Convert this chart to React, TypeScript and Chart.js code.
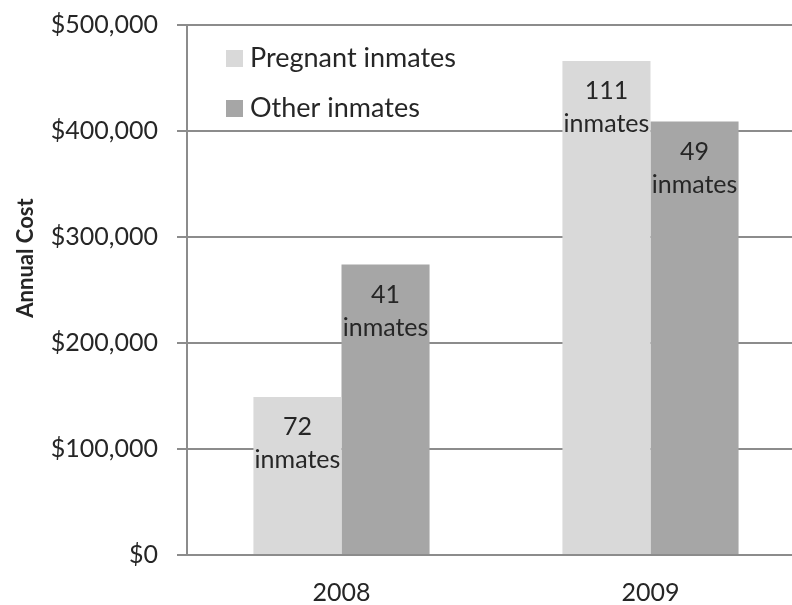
import React, { useEffect, useRef } from "react";
import { Chart, registerables } from "chart.js";

Chart.register(...registerables);

const categories = ["2008", "2009"];
const seriesNames = ["Pregnant inmates", "Other inmates"];
const pregnantCost = [149000, 466000];
const otherCost = [274000, 409000];
const pregnantCount = [72, 111];
const otherCount = [41, 49];
const yTicks = [0, 100000, 200000, 300000, 400000, 500000];
const yTitle = "Annual Cost";

const FONT = "Lato, 'Open Sans', sans-serif";
const TEXT = "#262626";
const COLORS = ["#d9d9d9", "#a6a6a6"];
const counts = [pregnantCount, otherCount];

const labelPlugin = {
  id: "barLabels",
  afterDatasetsDraw(chart: any) {
    const ctx = chart.ctx;
    ctx.save();
    ctx.fillStyle = TEXT;
    ctx.font = `25px ${FONT}`;
    ctx.textAlign = "center";
    ctx.textBaseline = "middle";
    chart.data.datasets.forEach((ds: any, di: number) => {
      const meta = chart.getDatasetMeta(di);
      meta.data.forEach((bar: any, i: number) => {
        const x = bar.x;
        const y = bar.y;
        ctx.fillText(String(counts[di][i]), x, y + 30);
        ctx.fillText("inmates", x, y + 63);
      });
    });
    ctx.restore();
  },
};

const legendPlugin = {
  id: "insideLegend",
  afterDraw(chart: any) {
    const ctx = chart.ctx;
    ctx.save();
    ctx.font = `27px ${FONT}`;
    ctx.textBaseline = "middle";
    ctx.textAlign = "left";
    chart.data.datasets.forEach((ds: any, di: number) => {
      const cy = 58 + di * 50;
      ctx.fillStyle = ds.backgroundColor;
      ctx.fillRect(226, cy - 8, 17, 17);
      ctx.fillStyle = TEXT;
      ctx.fillText(ds.label, 250, cy);
    });
    // y axis title
    ctx.translate(26, 258);
    ctx.rotate(-Math.PI / 2);
    ctx.font = `bold 22px ${FONT}`;
    ctx.textAlign = "center";
    ctx.fillStyle = TEXT;
    ctx.fillText(yTitle, 0, 0);
    ctx.restore();
  },
};

export default function App() {
  const ref = useRef<HTMLCanvasElement>(null);
  useEffect(() => {
    if (!ref.current) return;
    const chart = new Chart(ref.current, {
      type: "bar",
      data: {
        labels: categories,
        datasets: [
          { label: seriesNames[0], data: pregnantCost, backgroundColor: COLORS[0] },
          { label: seriesNames[1], data: otherCost, backgroundColor: COLORS[1] },
        ],
      },
      options: {
        responsive: false,
        animation: false,
        layout: { padding: { top: 25, right: 25, left: 0, bottom: 0 } },
        plugins: { legend: { display: false }, tooltip: { enabled: false } },
        datasets: { bar: { categoryPercentage: 0.57, barPercentage: 1 } },
        scales: {
          x: {
            grid: { display: false },
            border: { display: true, color: "#8c8c8c", width: 2 },
            ticks: { color: TEXT, font: { family: FONT, size: 25 }, padding: 15 },
            afterFit: (s: any) => { s.height = 50; s.paddingLeft = 0; s.paddingRight = 0; },
          },
          y: {
            min: 0,
            max: 500000,
            afterBuildTicks: (s: any) => { s.ticks = yTicks.map((v) => ({ value: v })); },
            grid: { color: "#8c8c8c", lineWidth: 2, tickLength: 10 },
            border: { display: true, color: "#8c8c8c", width: 2 },
            ticks: {
              color: TEXT,
              font: { family: FONT, size: 25 },
              padding: 19,
              callback: (v: any) => "$" + Number(v).toLocaleString("en-US"),
            },
            afterFit: (s: any) => { s.width = 187; s.paddingTop = 0; s.paddingBottom = 0; },
          },
        },
      },
      plugins: [labelPlugin, legendPlugin],
    } as any);
    return () => chart.destroy();
  }, []);
  return (
    <div style={{ position: "fixed", left: 0, top: 0, width: 792, height: 605, overflow: "hidden", background: "#fff" }}>
      <canvas ref={ref} width={830} height={605} style={{ width: 830, height: 605 }} />
    </div>
  );
}
